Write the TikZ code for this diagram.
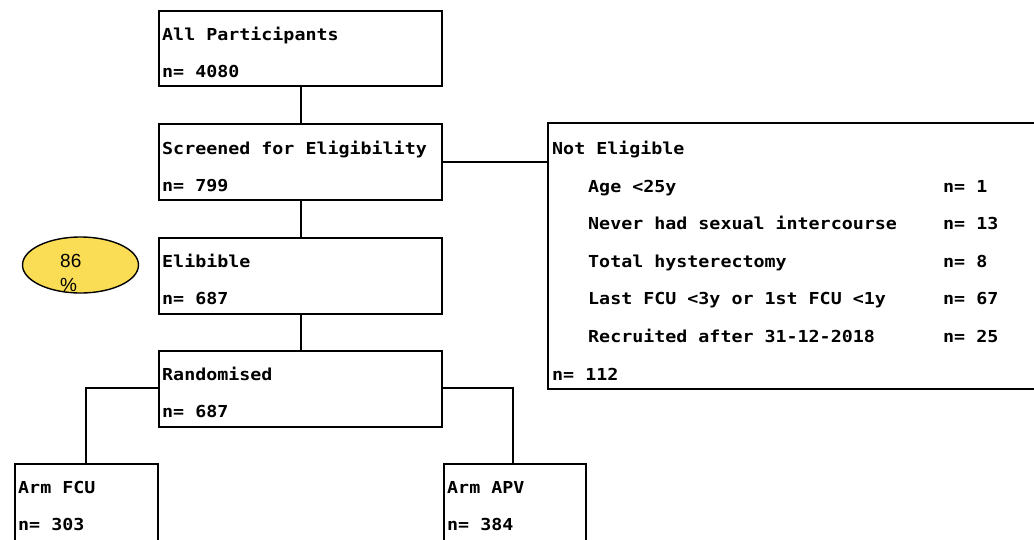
\documentclass[tikz,border=0pt]{standalone}
\usepackage{fontspec}
\setmainfont{Liberation Sans}
\newfontfamily\mono[FakeStretch=1.11]{DejaVu Sans Mono}
\usetikzlibrary{shapes.geometric}
\definecolor{ovalyellow}{RGB}{250,220,85}
\tikzset{
  boxnode/.style={draw=black, line width=2pt, rectangle, inner sep=0pt, anchor=north west},
  txt/.style={anchor=base west, inner sep=0pt, font=\mono\bfseries\fontsize{16.5}{18}\selectfont},
  conn/.style={draw=black, line width=2pt},
}
\begin{document}
\begin{tikzpicture}[x=1pt,y=-1pt]
\useasboundingbox (0,0) rectangle (1034,539);
% boxes
\node[boxnode, minimum width=283pt, minimum height=75pt] (all) at (158,10) {};
\node[boxnode, minimum width=283pt, minimum height=76pt] (scr) at (158,123) {};
\node[boxnode, minimum width=283pt, minimum height=76pt] (eli) at (158,237) {};
\node[boxnode, minimum width=283pt, minimum height=76pt] (ran) at (158,350) {};
\node[boxnode, minimum width=143pt, minimum height=80pt] (fcu) at (14,463) {};
\node[boxnode, minimum width=142pt, minimum height=80pt] (apv) at (443,463) {};
\node[boxnode, minimum width=500pt, minimum height=266pt] (ne) at (547,122) {};
% texts
\node[txt] (t1a) at (162,40) {All Participants};
\node[txt] (t1b) at (162,77) {n= 4080};
\node[txt] (t2a) at (162,154) {Screened for Eligibility};
\node[txt] (t2b) at (162,191) {n= 799};
\node[txt] (t3a) at (162,267) {Elibible};
\node[txt] (t3b) at (162,304) {n= 687};
\node[txt] (t4a) at (162,380) {Randomised};
\node[txt] (t4b) at (162,417) {n= 687};
\node[txt] (t5a) at (18,493) {Arm FCU};
\node[txt] (t5b) at (18,530) {n= 303};
\node[txt] (t6a) at (447,493) {Arm APV};
\node[txt] (t6b) at (447,530) {n= 384};
\node[txt] (n0) at (552,154) {Not Eligible};
\node[txt] (n1) at (588,192) {Age <25y};
\node[txt] (n2) at (588,229) {Never had sexual intercourse};
\node[txt] (n3) at (588,267) {Total hysterectomy};
\node[txt] (n4) at (588,304) {Last FCU <3y or 1st FCU <1y};
\node[txt] (n5) at (588,342) {Recruited after 31-12-2018};
\node[txt] (m1) at (943,192) {n= 1};
\node[txt] (m2) at (943,229) {n= 13};
\node[txt] (m3) at (943,267) {n= 8};
\node[txt] (m4) at (943,304) {n= 67};
\node[txt] (m5) at (943,342) {n= 25};
\node[txt] (n6) at (552,380) {n= 112};
% oval
\node[ellipse, draw=black, line width=1.4pt, fill=ovalyellow, minimum width=116pt, minimum height=56pt, inner sep=0pt] (pct) at (80.5,265) {};
\node[anchor=base west, inner sep=0pt, font=\fontsize{19}{21}\selectfont] (p1) at (60,267) {86};
\node[anchor=base west, inner sep=0pt, font=\fontsize{19}{21}\selectfont] (p2) at (60,291) {\%};
% connectors
\draw[conn] (all.south) -- (scr.north);
\draw[conn] (scr.south) -- (eli.north);
\draw[conn] (eli.south) -- (ran.north);
\draw[conn] (scr.east) -- (scr.east -| ne.west);
\coordinate (lf) at (86,388);
\coordinate (rt) at (513,388);
\draw[conn] (ran.west |- lf) -- (lf) -- (lf |- fcu.north);
\draw[conn] (ran.east |- rt) -- (rt) -- (rt |- apv.north);
\end{tikzpicture}
\end{document}
